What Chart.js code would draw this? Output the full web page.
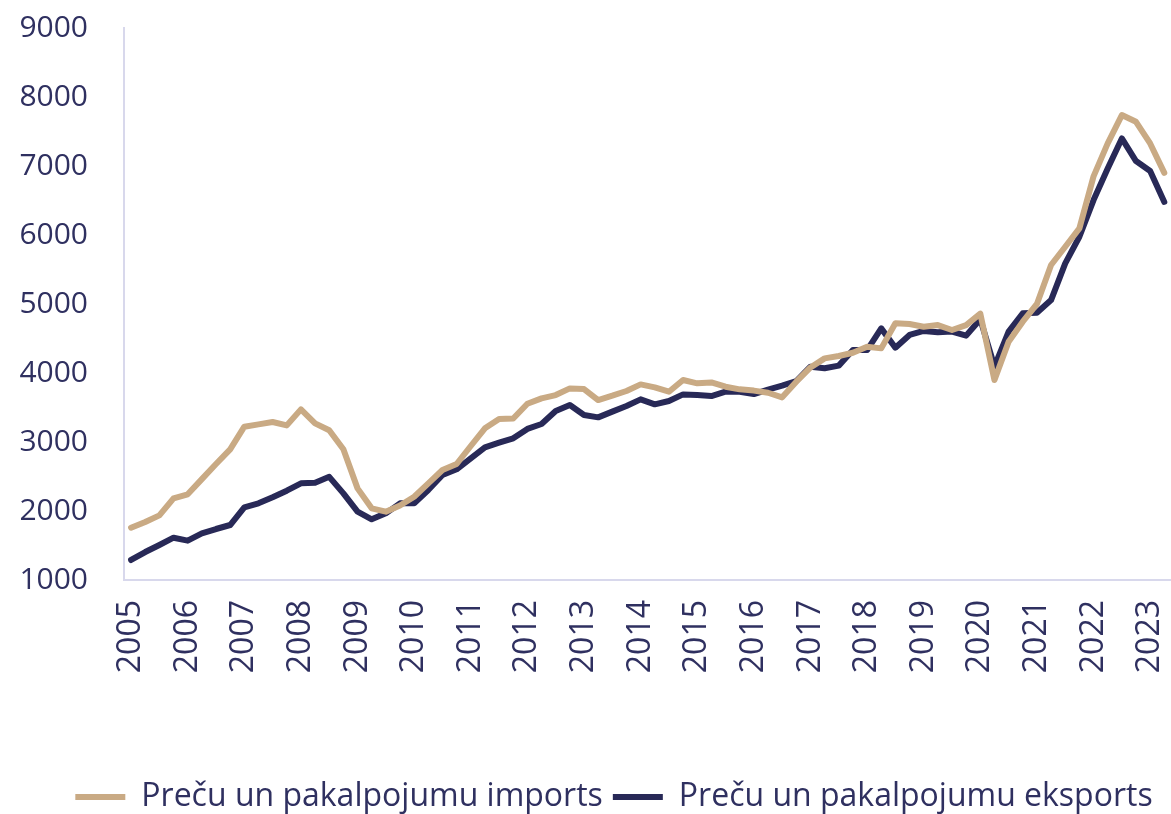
<!DOCTYPE html>
<html lang="lv">
  <head>
    <meta charset="UTF-8" />
    <title>Preču un pakalpojumu imports un eksports</title>
    <script src="https://cdn.jsdelivr.net/npm/chart.js"></script>
    <style>
      html, body { margin: 0; padding: 0; background: #fff; overflow: hidden; }
      #wrap { width: 1228px; height: 814px; }
    </style>
  </head>
  <body>
    <div id="wrap">
      <canvas id="tradeChart" width="1228" height="814"></canvas>
    </div>

    <script>
      // gadi uz ass (katram gadam 4 ceturkšņi)
      const years = [2005, 2006, 2007, 2008, 2009, 2010, 2011, 2012, 2013, 2014,
        2015, 2016, 2017, 2018, 2019, 2020, 2021, 2022, 2023, 2024];
      const quarters = ["Q1", "Q2", "Q3", "Q4"];

      // Preču un pakalpojumu imports, 2005 Q1 - 2023 Q2
      const importsData = [
        1758, 1840, 1937, 2184, 2242, 2462, 2681, 2894,
        3222, 3256, 3290, 3241, 3473, 3270, 3170, 2894,
        2328, 2039, 1990, 2080, 2207, 2401, 2594, 2681,
        2942, 3198, 3333, 3340, 3555, 3633, 3680, 3777,
        3767, 3608, 3671, 3739, 3835, 3792, 3729, 3898,
        3850, 3864, 3801, 3763, 3745, 3714, 3647, 3874,
        4080, 4212, 4246, 4294, 4381, 4357, 4720, 4710,
        4671, 4695, 4623, 4695, 4860, 3898, 4454, 4744,
        5000, 5565, 5830, 6096, 6850, 7327, 7738, 7641,
        7327, 6900
      ];

      // Preču un pakalpojumu eksports, 2005 Q1 - 2023 Q2
      const exportsData = [
        1290, 1405, 1507, 1613, 1570, 1676, 1739, 1797,
        2053, 2111, 2198, 2294, 2401, 2410, 2495, 2256,
        1990, 1880, 1966, 2111, 2111, 2304, 2521, 2604,
        2763, 2923, 2990, 3053, 3190, 3261, 3449, 3536,
        3391, 3357, 3440, 3522, 3618, 3546, 3594, 3690,
        3680, 3666, 3729, 3729, 3695, 3760, 3816, 3884,
        4092, 4068, 4107, 4333, 4333, 4647, 4367, 4551,
        4609, 4590, 4600, 4542, 4780, 4092, 4600, 4865,
        4874, 5057, 5589, 5975, 6506, 6964, 7399, 7072,
        6927, 6480
      ];

      const yTicks = [1000, 2000, 3000, 4000, 5000, 6000, 7000, 8000, 9000];

      const labels = [];
      years.forEach((y) => {
        quarters.forEach((q) => labels.push(y + " " + q));
      });
      labels.length = 78; // līdz 2024 Q2

      const textColor = "#2f3060";
      const axisColor = "#d8d8ec";
      const tan = "#c9aa84";
      const navy = "#282957";
      const font = "'Open Sans', 'Noto Sans', sans-serif";

      const ctx = document.getElementById("tradeChart").getContext("2d");
      new Chart(ctx, {
        type: "line",
        data: {
          labels: labels,
          datasets: [
            {
              label: "Preču un pakalpojumu imports",
              data: importsData,
              borderColor: tan,
              backgroundColor: tan,
              borderWidth: 6,
              pointRadius: 0,
              tension: 0,
              borderJoinStyle: "round",
              borderCapStyle: "round",
            },
            {
              label: "Preču un pakalpojumu eksports",
              data: exportsData,
              borderColor: navy,
              backgroundColor: navy,
              borderWidth: 6,
              pointRadius: 0,
              tension: 0,
              borderJoinStyle: "round",
              borderCapStyle: "round",
            },
          ],
        },
        options: {
          responsive: false,
          animation: false,
          layout: { padding: { top: 28, left: 0, right: 0, bottom: -9 } },
          plugins: {
            tooltip: { enabled: false },
            legend: {
              position: "bottom",
              labels: {
                usePointStyle: true,
                pointStyle: "line",
                pointStyleWidth: 50,
                boxHeight: 30,
                padding: 10,
                color: textColor,
                font: { family: font, size: 32, lineHeight: 1 },
              },
            },
          },
          scales: {
            x: {
              offset: true,
              grid: { display: false, drawTicks: false },
              border: { display: true, color: axisColor, width: 2 },
              ticks: {
                autoSkip: false,
                maxRotation: 90,
                minRotation: 90,
                padding: 20,
                color: textColor,
                font: { family: font, size: 32 },
                callback: (val, idx) => (idx % 4 === 0 ? String(years[idx / 4]) : ""),
              },
              afterFit: (scale) => {
                scale.height = 191;
                scale.paddingLeft = 0;
                scale.paddingRight = 0;
              },
            },
            y: {
              min: yTicks[0],
              max: yTicks[yTicks.length - 1],
              afterBuildTicks: (scale) => {
                scale.ticks = yTicks.map((v) => ({ value: v }));
              },
              grid: { display: false, drawTicks: false },
              border: { display: true, color: axisColor, width: 2 },
              ticks: {
                padding: 36,
                color: textColor,
                font: { family: font, size: 30 },
                callback: (v) => String(v),
              },
              afterFit: (scale) => {
                scale.width = 124;
                scale.paddingTop = 0;
                scale.paddingBottom = 0;
              },
            },
          },
        },
      });
    </script>
  </body>
</html>
